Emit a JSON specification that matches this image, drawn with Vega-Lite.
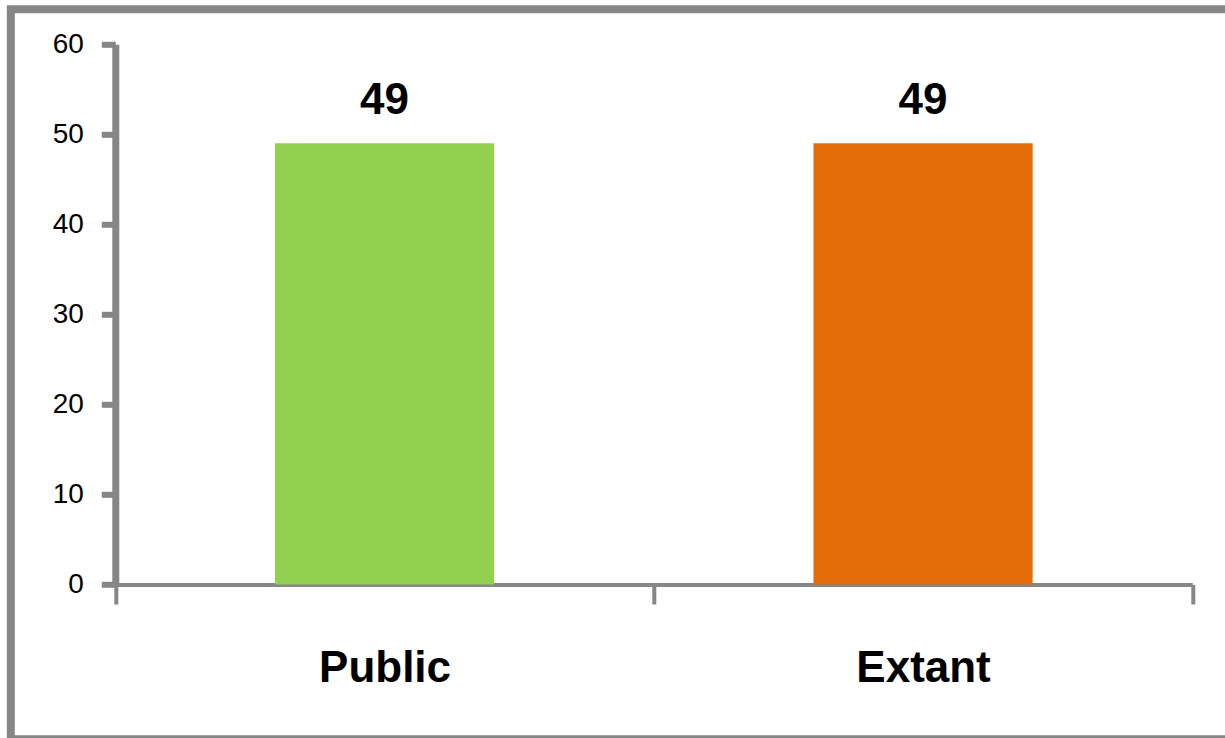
{
  "$schema": "https://vega.github.io/schema/vega-lite/v6.json",
  "width": 1240,
  "height": 730,
  "autosize": {"type": "none"},
  "padding": {"left": 10.8, "top": 9.3, "right": 0, "bottom": 0},
  "background": "white",
  "config": {
    "view": {"stroke": "#868686", "strokeWidth": 8},
    "font": "Liberation Sans"
  },
  "data": {
    "values": [
      {"category": "Public", "value": 49},
      {"category": "Extant", "value": 49}
    ]
  },
  "encoding": {
    "x": {
      "field": "category",
      "type": "nominal",
      "sort": ["Public", "Extant"],
      "scale": {"range": [104.5, 1181.5], "paddingInner": 0, "paddingOuter": 0},
      "axis": {
        "title": null,
        "offset": -154.8,
        "domainColor": "#868686",
        "domainWidth": 4,
        "tickColor": "#868686",
        "tickWidth": 4,
        "tickSize": 19.5,
        "tickBand": "extent",
        "labelAngle": 0,
        "labelFont": "Liberation Sans",
        "labelFontSize": 44,
        "labelFontWeight": "bold",
        "labelColor": "#000000",
        "labelPadding": 43,
        "labelBaseline": "top"
      }
    },
    "y": {
      "field": "value",
      "type": "quantitative",
      "scale": {"domain": [0, 60], "range": [575.2, 35], "nice": false, "zero": true},
      "axis": {
        "title": null,
        "offset": -104.5,
        "values": [0, 10, 20, 30, 40, 50, 60],
        "grid": false,
        "domainColor": "#868686",
        "domainWidth": 7,
        "tickColor": "#868686",
        "tickWidth": 6,
        "tickSize": 14,
        "labelFont": "Liberation Sans",
        "labelFontSize": 28,
        "labelColor": "#000000",
        "labelPadding": 18
      }
    }
  },
  "layer": [
    {
      "mark": {"type": "bar", "clip": false, "width": {"band": 0.407}},
      "encoding": {
        "color": {
          "field": "category",
          "type": "nominal",
          "scale": {"domain": ["Public", "Extant"], "range": ["#92D050", "#E36C09"]},
          "legend": null
        }
      }
    },
    {
      "mark": {"type": "text", "baseline": "alphabetic", "dy": -29, "fontSize": 44, "fontWeight": "bold", "color": "#000000"},
      "encoding": {"text": {"field": "value", "type": "quantitative"}}
    }
  ]
}
